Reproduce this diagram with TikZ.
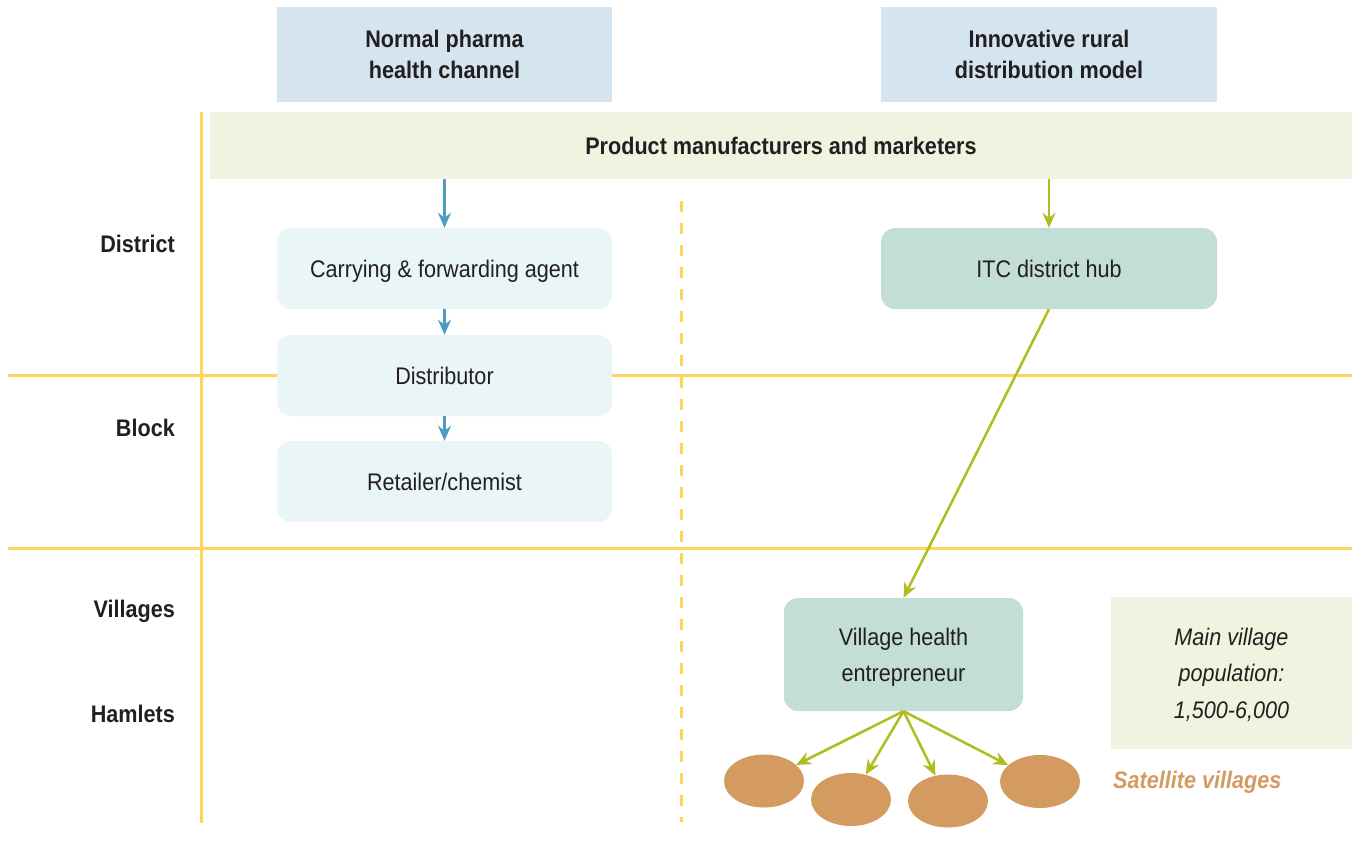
\documentclass[tikz,border=0pt]{standalone}
\usepackage{fontspec}
\setmainfont{Liberation Sans}[FakeStretch=0.9]
\usetikzlibrary{arrows.meta,shapes.geometric}
\definecolor{hdrblue}{HTML}{D5E5EF}
\definecolor{barcol}{HTML}{F1F3E0}
\definecolor{lightbox}{HTML}{E9F5F7}
\definecolor{tealbox}{HTML}{C3DDD7}
\definecolor{yel}{HTML}{FDD55A}
\definecolor{blu}{HTML}{4C9DC1}
\definecolor{grn}{HTML}{AFBE1E}
\definecolor{ora}{HTML}{D49B60}
\definecolor{txt}{HTML}{231F20}
\tikzset{
  basefont/.style={font=\fontsize{24}{31}\selectfont, text=txt},
  hdrbox/.style={basefont, font=\fontsize{24}{31}\selectfont\bfseries, fill=hdrblue, align=center, inner sep=0pt, minimum width=335pt, minimum height=95pt},
  barbox/.style={basefont, font=\fontsize{24}{31}\selectfont\bfseries, fill=barcol, inner sep=0pt, minimum width=1142pt, minimum height=67pt},
  lbox/.style={basefont, fill=lightbox, rounded corners=14pt, inner sep=0pt, minimum width=335pt, minimum height=81pt, text height=17pt, text depth=0pt},
  tbox/.style={basefont, fill=tealbox, rounded corners=14pt, inner sep=0pt, align=center},
  sidelabel/.style={basefont, font=\fontsize{24}{31}\selectfont\bfseries, anchor=base east, inner sep=0pt},
  yline/.style={draw=yel, line width=3pt},
  ydash/.style={draw=yel, line width=3pt, dash pattern=on 11pt off 11pt},
  barrow/.style={draw=blu, line width=2.5pt, -{Stealth[length=15pt,width=13pt,inset=5pt]}},
  garrow/.style={draw=grn, line width=2.5pt, -{Stealth[length=15pt,width=13pt,inset=5pt]}},
  sat/.style={ellipse, fill=ora, inner sep=0pt, minimum width=80pt, minimum height=53pt},
}
\begin{document}
\begin{tikzpicture}[x=1pt,y=-1pt]
\useasboundingbox[fill=white] (0,0) rectangle (1353,863);
% grid lines
\coordinate (vtop) at (201,112);
\coordinate (vbot) at (201,823);
\coordinate (h1l) at (8,375);
\coordinate (h1r) at (1352,375);
\coordinate (h2l) at (8,548);
\coordinate (h2r) at (1352,548);
\coordinate (dtop) at (681,201);
\coordinate (dbot) at (681,822);
\draw[yline] (vtop) -- (vbot);
\draw[yline] (h1l) -- (h1r);
\draw[yline] (h2l) -- (h2r);
\draw[ydash] (dtop) -- (dbot);
% headers
\node[hdrbox] (h1) at (444.5,54.5) {Normal pharma\\health channel};
\node[hdrbox, minimum width=336pt] (h2) at (1049,54.5) {Innovative rural\\distribution model};
\node[barbox] (bar) at (781,145.5) {Product manufacturers and marketers};
% side labels
\node[sidelabel] (ldist) at (175,252.5) {District};
\node[sidelabel] (lblock) at (175,436) {Block};
\node[sidelabel] (lvill) at (175,617.5) {Villages};
\node[sidelabel] (lham) at (175,722.5) {Hamlets};
% left chain
\node[lbox] (cf) at (444.5,268.5) {Carrying \& forwarding agent};
\node[lbox] (dist) at (444.5,375.5) {Distributor};
\node[lbox] (ret) at (444.5,481.5) {Retailer/chemist};
% right chain
\node[tbox, minimum width=336pt, minimum height=81pt] (itc) at (1049,268.5) {ITC district hub};
\node[tbox, minimum width=239pt, minimum height=113pt, font=\fontsize{24}{36}\selectfont, text depth=-5pt] (vhe) at (903.5,654.5) {Village health\\entrepreneur};
\node[basefont, fill=barcol, inner sep=0pt, minimum width=241pt, minimum height=152pt, align=center, font=\fontsize{24}{36.5}\selectfont\itshape, text depth=0pt] (mainv) at (1231.5,673) {Main village\\population:\\1,500-6,000};
% satellites
\node[sat] (e1) at (764,781) {};
\node[sat] (e2) at (851,799.5) {};
\node[sat] (e3) at (948,801) {};
\node[sat] (e4) at (1040,781.5) {};
\node[font=\fontsize{24}{31}\selectfont\bfseries\itshape, text=ora, anchor=west, inner sep=0pt] (satl) at (1113,782) {Satellite villages};
% arrows
\draw[barrow] (bar.south -| cf.north) -- (cf.north);
\draw[barrow] (cf) -- (dist);
\draw[barrow] (dist) -- (ret);
\draw[garrow] (bar.south -| itc.north) -- (itc.north);
\draw[garrow] (itc.south) -- (vhe.north);
\draw[garrow] (vhe.south) -- (e1);
\draw[garrow] (vhe.south) -- (e2);
\draw[garrow] (vhe.south) -- (e3);
\draw[garrow] (vhe.south) -- (e4);
\end{tikzpicture}
\end{document}
